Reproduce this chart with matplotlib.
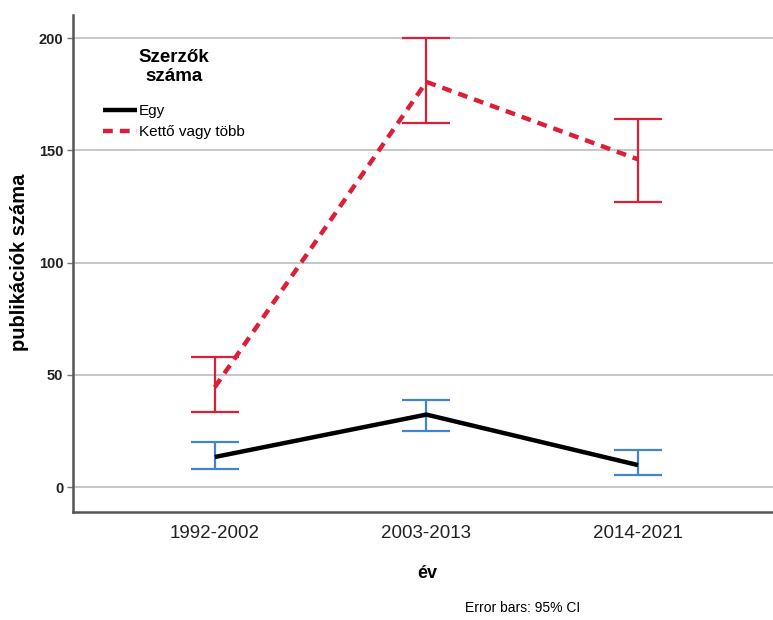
import matplotlib
matplotlib.use("Agg")
import matplotlib.pyplot as plt
import numpy as np

plt.rcParams['font.family'] = ['Liberation Sans', 'DejaVu Sans']

categories = ["1992-2002", "2003-2013", "2014-2021"]
egy_mean = [13.4, 32.3, 9.8]
egy_low = [8.0, 25.0, 5.3]
egy_high = [20.0, 39.0, 16.5]
tobb_mean = [44.5, 180.5, 146.0]
tobb_low = [33.4, 162.0, 127.0]
tobb_high = [58.0, 200.0, 164.0]
yticks = [0, 50, 100, 150, 200]

red = '#DA1F36'
blue = '#4185D0'

fig = plt.figure(figsize=(7.73, 6.2), dpi=100)
ax = fig.add_axes([73/773, 1-512/620, 1-73/773, (512-15)/620])

x = np.arange(len(categories))

for yv in yticks:
    ax.axhline(yv, color='#BDBDBD', lw=1.2, zorder=0)

e_m = np.array(egy_mean); t_m = np.array(tobb_mean)
ax.errorbar(x, e_m, yerr=[e_m-np.array(egy_low), np.array(egy_high)-e_m],
            fmt='none', ecolor=blue, elinewidth=1.6, capsize=17, capthick=1.6, zorder=2)
ax.errorbar(x, t_m, yerr=[t_m-np.array(tobb_low), np.array(tobb_high)-t_m],
            fmt='none', ecolor=red, elinewidth=1.6, capsize=17, capthick=1.6, zorder=2)
ax.plot(x, e_m, color='black', lw=3.2, label='Egy', zorder=3, solid_capstyle='butt')
ax.plot(x, t_m, color=red, lw=3.2, ls=(0, (2.2, 1.6)), label='Kettő vagy több', zorder=3)

ax.set_xlim(-0.67, 2.638)
ax.set_ylim(-11.1, 210.3)
ax.set_xticks(x)
ax.set_xticklabels(categories, fontsize=13.5, color='#222222')
ax.set_yticks(yticks)
ax.set_yticklabels([str(v) for v in yticks], fontsize=10.5, fontweight='bold', color='#222222')
ax.tick_params(axis='x', length=0, pad=9)
ax.tick_params(axis='y', length=4, width=1, color='#777777', pad=3)

for s in ['top', 'right']:
    ax.spines[s].set_visible(False)
for s in ['left', 'bottom']:
    ax.spines[s].set_color('#555555')
    ax.spines[s].set_linewidth(1.8)

fig.text(20/773, 1-262/620, 'publikációk száma', rotation=90, ha='center', va='center',
         fontsize=14.5, fontweight='bold')
fig.text(427/773, 1-573/620, 'év', ha='center', va='center', fontsize=13, fontweight='bold')
fig.text(523/773, 1-608/620, 'Error bars: 95% CI', ha='center', va='center', fontsize=10)

leg = ax.legend(loc='upper left', bbox_to_anchor=(103/773, 1-49/620),
                bbox_transform=fig.transFigure, frameon=False, fontsize=11,
                title='Szerzők\nszáma', handlelength=2.2, handletextpad=0.15,
                labelspacing=0.45, borderpad=0, borderaxespad=0)
t = leg.get_title()
t.set_fontweight('bold')
t.set_fontsize(13.5)
t.set_linespacing(1.15)
t.set_multialignment('center')
leg._legend_box.sep = 14

fig.savefig('out.png', dpi=100)
